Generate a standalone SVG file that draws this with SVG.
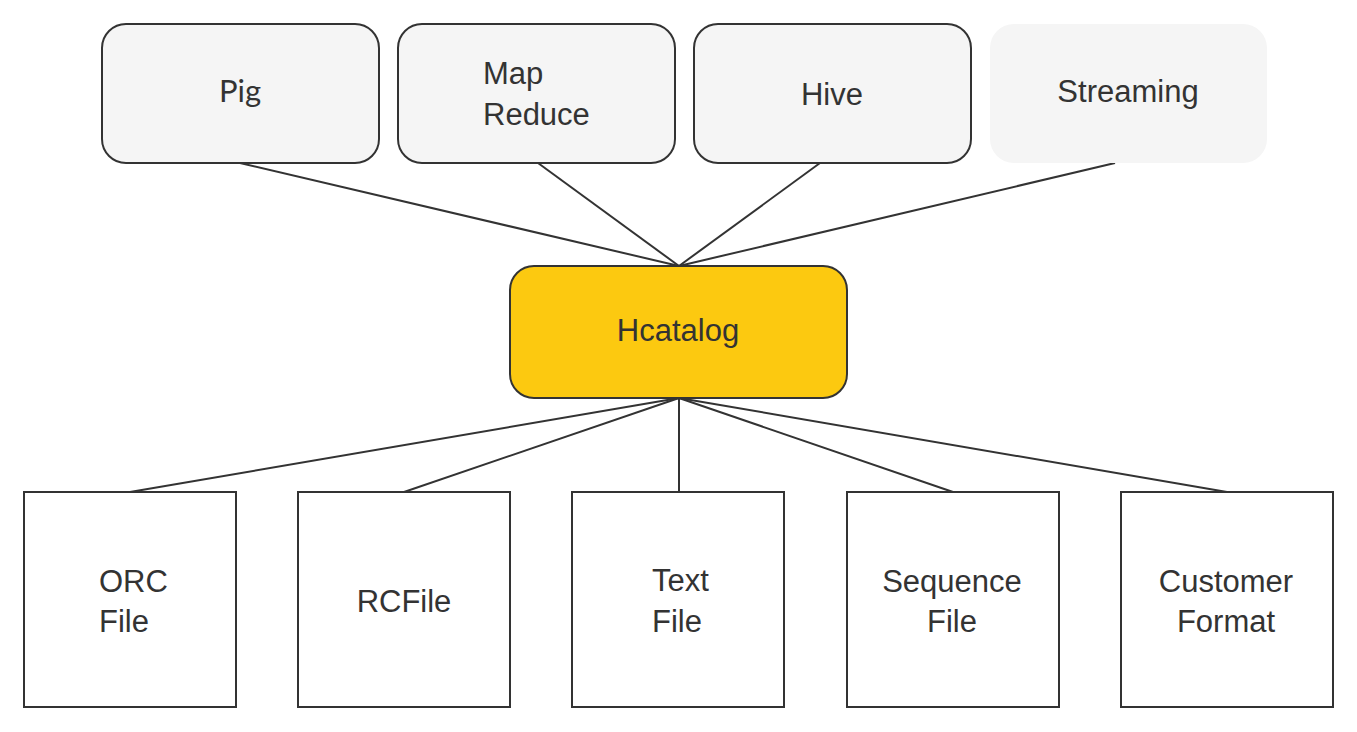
<svg xmlns="http://www.w3.org/2000/svg" width="1357" height="732" viewBox="0 0 1357 732">
<style>
.top{fill:#f5f5f5;stroke:#333;stroke-width:2}
.bot{fill:#fff;stroke:#333;stroke-width:2}
.t{font-family:"Liberation Sans",Arial,sans-serif;font-size:31px;fill:#333}
.c{text-anchor:middle}
.ln{stroke:#333;stroke-width:2;fill:none}
</style>
<rect width="1357" height="732" fill="#fff"/>
<g id="connectors">
<line class="ln" x1="240" y1="163" x2="679" y2="266"/>
<line class="ln" x1="538" y1="163" x2="679" y2="266"/>
<line class="ln" x1="820" y1="163" x2="679" y2="266"/>
<line class="ln" x1="1115" y1="163" x2="679" y2="266"/>
<line class="ln" x1="679" y1="398" x2="130" y2="492"/>
<line class="ln" x1="679" y1="398" x2="404" y2="492"/>
<line class="ln" x1="679" y1="398" x2="679" y2="492"/>
<line class="ln" x1="679" y1="398" x2="953" y2="492"/>
<line class="ln" x1="679" y1="398" x2="1227" y2="492"/>
</g>
<g id="pig">
<rect class="top" x="102" y="24" width="277" height="139" rx="24"/>
<text class="c" x="240" y="102" style="font-family:Lato,'Liberation Sans',sans-serif;font-size:31px;fill:#333">Pig</text>
</g>
<g id="mapreduce">
<rect class="top" x="398" y="24" width="277" height="139" rx="24"/>
<text class="t" x="483" y="84">Map</text>
<text class="t" x="483" y="125">Reduce</text>
</g>
<g id="hive">
<rect class="top" x="694" y="24" width="277" height="139" rx="24"/>
<text class="t c" x="832" y="105">Hive</text>
</g>
<g id="streaming">
<rect x="990" y="24" width="277" height="139" rx="24" fill="#f5f5f5"/>
<text class="t c" x="1128" y="102">Streaming</text>
</g>
<g id="hcatalog">
<rect x="510" y="266" width="337" height="132" rx="24" fill="#fcc910" stroke="#333" stroke-width="2"/>
<text class="t c" x="678" y="341">Hcatalog</text>
</g>
<g id="orc">
<rect class="bot" x="24" y="492" width="212" height="215"/>
<text class="t" x="99" y="592">ORC</text>
<text class="t" x="99" y="632">File</text>
</g>
<g id="rcfile">
<rect class="bot" x="298" y="492" width="212" height="215"/>
<text class="t c" x="404" y="612">RCFile</text>
</g>
<g id="textfile">
<rect class="bot" x="572" y="492" width="212" height="215"/>
<text class="t" x="652" y="591">Text</text>
<text class="t" x="652" y="632">File</text>
</g>
<g id="sequencefile">
<rect class="bot" x="847" y="492" width="212" height="215"/>
<text class="t c" x="952" y="592">Sequence</text>
<text class="t c" x="952" y="632">File</text>
</g>
<g id="customerformat">
<rect class="bot" x="1121" y="492" width="212" height="215"/>
<text class="t c" x="1226" y="592">Customer</text>
<text class="t c" x="1226" y="632">Format</text>
</g>
</svg>
